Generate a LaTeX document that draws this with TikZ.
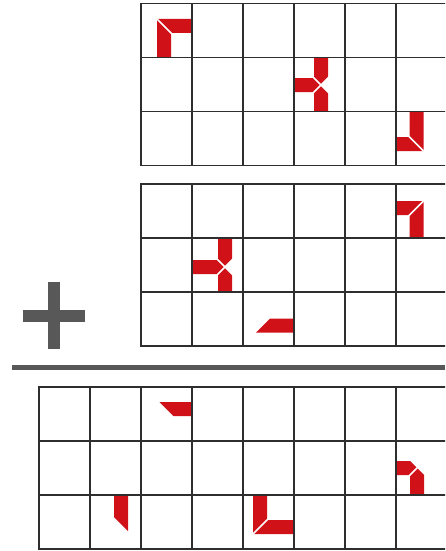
\documentclass[tikz,border=0pt]{standalone}
\usepackage{xcolor}
\usepackage{tikz}
\definecolor{piecered}{RGB}{208,17,24}
\definecolor{linegray}{RGB}{46,46,46}
\definecolor{signgray}{RGB}{88,88,88}
\begin{document}
\begin{tikzpicture}[x=1pt, y=-1pt,
      cellline/.style={line width=1.8pt, line cap=rect, color=linegray},
      piece/.style={fill=piecered},
      cut/.style={draw=white, line width=1.6pt},
      sign/.style={fill=signgray}
    ]
      \useasboundingbox (0,0) rectangle (445,551);
      \clip (0,0) rectangle (445,551);
      % first grid
      \fill[piece] (157,19) -- (192,19) -- (192,33) -- (171,33) -- (171,57.5) -- (157,57.5) -- cycle;
      \draw[cut] (156,18) -- (172,34);
      \fill[piece] (314,57.5) -- (328,57.5) -- (328,78) -- (321,85) -- (328,92) -- (328,111.5)
        -- (314,111.5) -- (314,92) -- (294,92) -- (294,78) -- (314,78) -- cycle;
      \draw[cut] (313,77) -- (329,93);
      \draw[cut] (329,77) -- (313,93);
      \fill[piece] (409.5,111.5) -- (423.5,111.5) -- (423.5,151) -- (396,151) -- (396,137) -- (409.5,137) -- cycle;
      \draw[cut] (408.5,136) -- (424.5,152);
      % second grid
      \fill[piece] (396,201) -- (423.5,201) -- (423.5,238) -- (409.5,238) -- (409.5,215) -- (396,215) -- cycle;
      \draw[cut] (424.5,200) -- (408.5,216);
      \fill[piece] (218,238) -- (232,238) -- (232,260) -- (225,267) -- (232,274) -- (232,292)
        -- (218,292) -- (218,274) -- (192,274) -- (192,260) -- (218,260) -- cycle;
      \draw[cut] (217,259) -- (233,275);
      \draw[cut] (233,259) -- (217,275);
      \fill[piece] (270,318.5) -- (294,318.5) -- (294,332.5) -- (256,332.5) -- cycle;
      % result grid
      \fill[piece] (159.5,402) -- (192,402) -- (192,416) -- (173.5,416) -- cycle;
      \fill[piece] (114,495) -- (128,495) -- (128,531) -- (114,517) -- cycle;
      \fill[piece] (396,461) -- (410,461) -- (417,468) -- (424,475) -- (424,495) -- (410,495)
        -- (410,475) -- (396,475) -- cycle;
      \draw[cut] (409,476) -- (419,466);
      \fill[piece] (253,495) -- (267,495) -- (267,520) -- (294,520) -- (294,534) -- (253,534) -- cycle;
      \draw[cut] (252,535) -- (268,519);
      % grid lines
      \foreach \gx/\gy in {141/3.5, 141/184, 39/387} {
        \foreach \r in {0,...,3}
          \draw[cellline] (\gx,\gy+54*\r) -- (460,\gy+54*\r);
        \foreach \c in {0,...,8}
          \draw[cellline] (\gx+51*\c,\gy) -- (\gx+51*\c,\gy+162);
      }
      % plus sign and sum bar
      \fill[sign] (48,282) rectangle (60,349);
      \fill[sign] (23,310) rectangle (85,322);
      \fill[sign] (12,364.5) rectangle (445,369.5);
    \end{tikzpicture}
\end{document}
